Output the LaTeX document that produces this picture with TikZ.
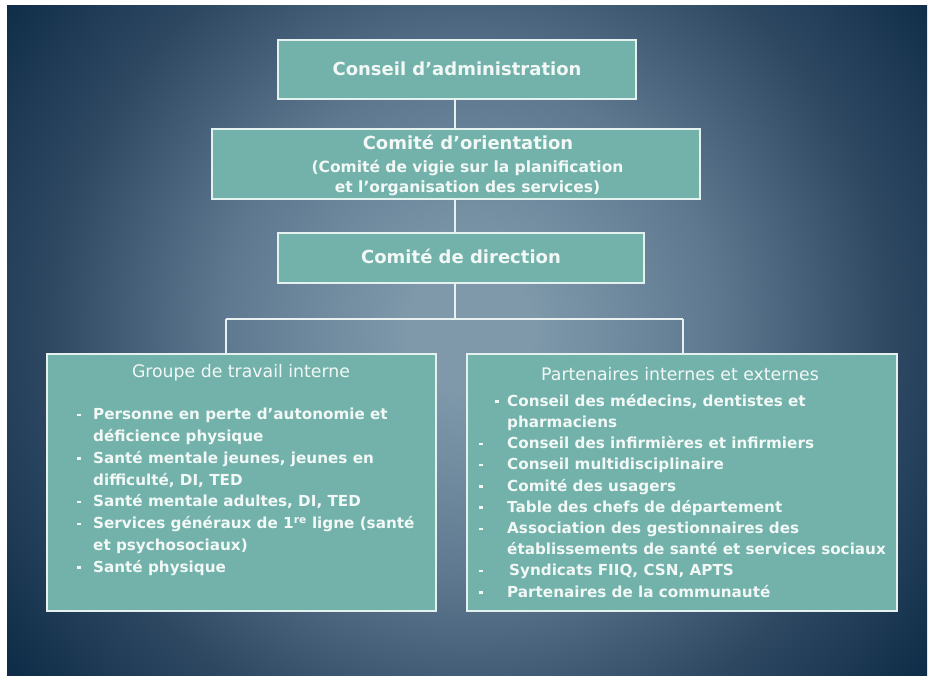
\documentclass[tikz,border=0pt]{standalone}
\usepackage{fontspec}
\setmainfont{DejaVu Sans}
\definecolor{boxfill}{HTML}{72B2AA}
\definecolor{boxline}{HTML}{E4F1EE}
\definecolor{boxtext}{HTML}{F2F8F6}
\definecolor{linkline}{HTML}{E8F0F0}
\definecolor{bgcentre}{HTML}{7F99AB}
\definecolor{bgmid}{HTML}{5E7890}
\definecolor{bgouter}{HTML}{2E4862}
\definecolor{bgedge}{HTML}{0F2D48}
% radial glow: 50bp is the full radius of the shading
\pgfdeclareradialshading{bgglow}{\pgfpoint{0bp}{0bp}}{%
  color(0bp)=(bgcentre); color(5bp)=(bgcentre); color(20bp)=(bgmid);
  color(34bp)=(bgouter); color(46bp)=(bgedge); color(50bp)=(bgedge)}
\newcommand{\blt}{\rule[3.5pt]{4pt}{2.5pt}}
\tikzset{
  orgbox/.style={draw=boxline, line width=1.6pt, fill=boxfill, inner sep=0pt},
  titletext/.style={text=boxtext, font=\bfseries\fontsize{18}{22}\selectfont},
  subtext/.style={text=boxtext, font=\bfseries\fontsize{15.5}{20}\selectfont, align=center},
  headtext/.style={text=boxtext, font=\fontsize{17.3}{21}\selectfont},
  listtext/.style={text=boxtext, align=left, inner sep=0pt, anchor=north west},
  link/.style={draw=linkline, line width=1.6pt}
}
\begin{document}
\begin{tikzpicture}[x=1pt, y=-1pt]
\useasboundingbox (0,0) rectangle (928,676);
\fill[white] (0,0) rectangle (928,676);
% backdrop: dark blue with a soft light glow in the middle
\begin{scope}
  \clip (7,6) rectangle (927,676);
  \node[inner sep=0pt, scale=12.35] (glow) at (470,330) {\pgfuseshading{bgglow}};
\end{scope}

% spine coordinates
\coordinate (spine) at (455,0);
\coordinate (barleft) at (226,319);
\coordinate (barright) at (683,319);
\coordinate (barmid) at (455,319);

% boxes
\node[orgbox, minimum width=358pt, minimum height=59pt] (admin) at (457,69.5) {};
\node[orgbox, minimum width=488pt, minimum height=70pt] (orient) at (456,164) {};
\node[orgbox, minimum width=366pt, minimum height=50pt] (direct) at (461,258) {};
\node[orgbox, minimum width=389pt, minimum height=257pt] (groupe) at (241.5,482.5) {};
\node[orgbox, minimum width=430pt, minimum height=257pt] (partners) at (682,482.5) {};

% connectors
\draw[link] (admin.south -| spine) -- (orient.north -| spine);
\draw[link] (orient.south -| spine) -- (direct.north -| spine);
\draw[link] (direct.south -| spine) -- (barmid);
\draw[link] (barleft) -- (barright);
\draw[link] (barleft) -- (barleft |- groupe.north);
\draw[link] (barright) -- (barright |- partners.north);

% titles
\node[titletext] (admintitle) at (457,69) {Conseil d’administration};
\node[titletext] (orienttitle) at (468,142) {Comité d’orientation};
\node[subtext] (orientsub) at (467.5,178) {(Comité de vigie sur la planification\\et l’organisation des services)};
\node[titletext] (directtitle) at (461,256) {Comité de direction};

% group headings
\node[headtext] (groupehead) at (241,373) {Groupe de travail interne};
\node[headtext] (partnershead) at (680,374) {Partenaires internes et externes};

% lists
\node[listtext, font=\bfseries\fontsize{15.2}{21.8}\selectfont] (groupelist) at (77,408) {%
\makebox[16pt][l]{\blt}Personne en perte d’autonomie et\\
\hspace*{16pt}déficience physique\\
\makebox[16pt][l]{\blt}Santé mentale jeunes, jeunes en\\
\hspace*{16pt}difficulté, DI, TED\\
\makebox[16pt][l]{\blt}Santé mentale adultes, DI, TED\\
\makebox[16pt][l]{\blt}Services généraux de 1\textsuperscript{re} ligne (santé\\
\hspace*{16pt}et psychosociaux)\\
\makebox[16pt][l]{\blt}Santé physique};

\node[listtext, font=\bfseries\fontsize{15.2}{21.2}\selectfont] (partnerslist) at (479,394) {%
\hspace*{16pt}\makebox[12pt][l]{\blt}Conseil des médecins, dentistes et\\
\hspace*{28pt}pharmaciens\\
\makebox[28pt][l]{\blt}Conseil des infirmières et infirmiers\\
\makebox[28pt][l]{\blt}Conseil multidisciplinaire\\
\makebox[28pt][l]{\blt}Comité des usagers\\
\makebox[28pt][l]{\blt}Table des chefs de département\\
\makebox[28pt][l]{\blt}Association des gestionnaires des\\
\hspace*{28pt}établissements de santé et services sociaux\\
\makebox[30pt][l]{\blt}Syndicats FIIQ, CSN, APTS\\
\makebox[28pt][l]{\blt}Partenaires de la communauté};
\end{tikzpicture}
\end{document}
